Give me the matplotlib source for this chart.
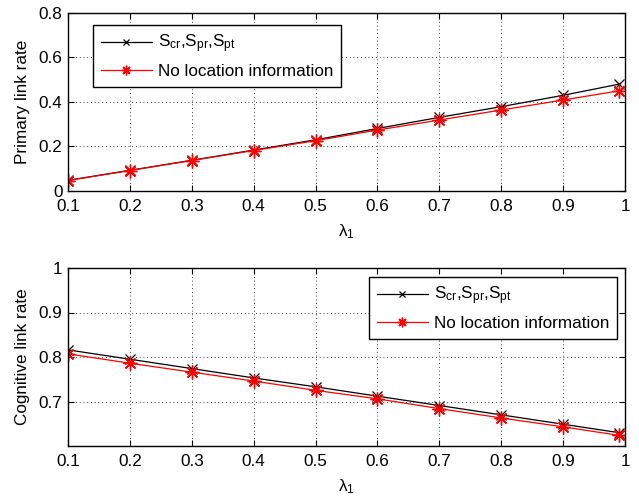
import matplotlib
matplotlib.use("Agg")
import matplotlib.pyplot as plt

plt.rcParams['font.family'] = ['Liberation Sans', 'DejaVu Sans']
plt.rcParams['mathtext.fontset'] = 'custom'
plt.rcParams['mathtext.rm'] = 'Liberation Sans'
plt.rcParams['mathtext.it'] = 'Liberation Sans:italic'
plt.rcParams['mathtext.bf'] = 'Liberation Sans:bold'

lam = [0.1, 0.2, 0.3, 0.4, 0.5, 0.6, 0.7, 0.8, 0.9, 0.99]
primary_loc = [0.048, 0.093, 0.138, 0.184, 0.230, 0.281, 0.331, 0.379, 0.430, 0.480]
primary_noloc = [0.047, 0.092, 0.137, 0.182, 0.226, 0.274, 0.319, 0.364, 0.409, 0.450]
cog_loc = [0.816, 0.795, 0.774, 0.753, 0.733, 0.712, 0.691, 0.670, 0.649, 0.630]
cog_noloc = [0.807, 0.786, 0.766, 0.746, 0.725, 0.706, 0.684, 0.663, 0.643, 0.624]

xticks = [0.1, 0.2, 0.3, 0.4, 0.5, 0.6, 0.7, 0.8, 0.9, 1]
xticklabels = ['0.1', '0.2', '0.3', '0.4', '0.5', '0.6', '0.7', '0.8', '0.9', '1']
label_loc = r'$\mathregular{S_{cr}{,}S_{pr}{,}S_{pt}}$'
label_noloc = 'No location information'

fig = plt.figure(figsize=(6.39, 4.96), dpi=100)
W, H = 639, 496
ax1 = fig.add_axes([68 / W, 1 - 191 / H, 557 / W, 178 / H])
ax2 = fig.add_axes([68 / W, 1 - 446 / H, 557 / W, 178 / H])

fs = 12.3
star = (8, 2, 0)

def style(ax):
    ax.set_xlim(0.1, 1)
    ax.set_xticks(xticks)
    ax.set_xticklabels(xticklabels)
    ax.grid(True, linestyle=(0, (1, 3.5)), color='black', linewidth=0.6)
    ax.tick_params(axis='x', pad=6)
    ax.tick_params(axis='y', pad=4)
    ax.tick_params(direction='in', top=True, right=True, labelsize=fs, length=4, width=0.8)
    for s in ax.spines.values():
        s.set_linewidth(1.0)
    ax.set_xlabel(r'$\mathregular{\lambda_1}$', fontsize=fs, labelpad=6)

def add_legend(ax, loc, anchor):
    leg = ax.legend(loc=loc, bbox_to_anchor=anchor, fontsize=fs,
                    fancybox=False, edgecolor='black', framealpha=1, borderpad=0.45,
                    handlelength=3.0, handletextpad=0.35, labelspacing=0.5,
                    markerscale=0.7, borderaxespad=0)
    leg.get_frame().set_linewidth(1.0)
    return leg

ax1.plot(lam, primary_loc, color='black', marker='x', markersize=7, markeredgewidth=0.9,
         linewidth=0.9, label=label_loc)
ax1.plot(lam, primary_noloc, color='red', marker=star, markersize=10, markeredgewidth=1.0,
         linewidth=0.9, label=label_noloc)
style(ax1)
ax1.set_ylim(0, 0.8)
ax1.set_yticks([0, 0.2, 0.4, 0.6, 0.8])
ax1.set_yticklabels(['0', '0.2', '0.4', '0.6', '0.8'])
ax1.set_ylabel('Primary link rate', fontsize=fs, labelpad=6)
add_legend(ax1, 'upper left', (25 / 557, 1 - 12 / 178))

ax2.plot(lam, cog_loc, color='black', marker='x', markersize=7, markeredgewidth=0.9,
         linewidth=0.9, label=label_loc)
ax2.plot(lam, cog_noloc, color='red', marker=star, markersize=10, markeredgewidth=1.0,
         linewidth=0.9, label=label_noloc)
style(ax2)
ax2.set_ylim(0.6, 1)
ax2.set_yticks([0.7, 0.8, 0.9, 1])
ax2.set_yticklabels(['0.7', '0.8', '0.9', '1'])
ax2.set_ylabel('Cognitive link rate', fontsize=fs, labelpad=6)
add_legend(ax2, 'upper right', (1 - 8 / 557, 1 - 9 / 178))

fig.savefig('out.png', dpi=100)
